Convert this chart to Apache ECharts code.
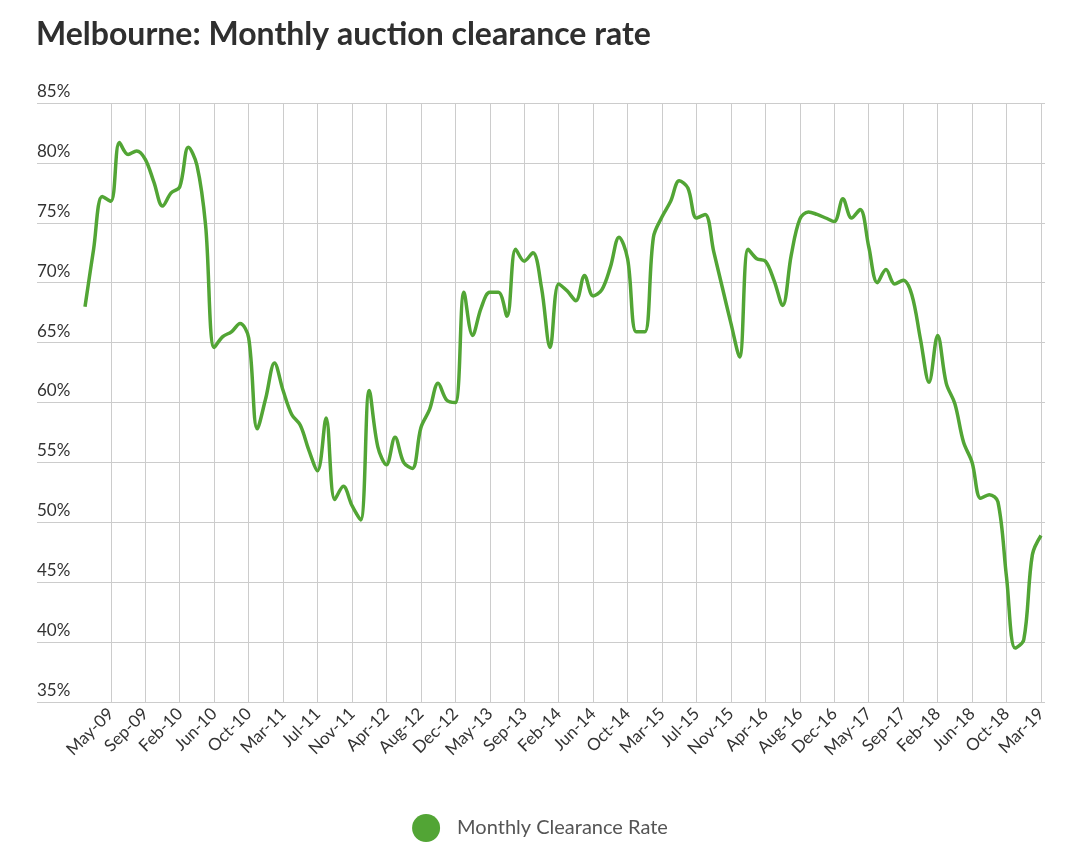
<!DOCTYPE html>
<html>
<head>
<meta charset="utf-8">
<script src="https://cdn.jsdelivr.net/npm/echarts@6/dist/echarts.min.js"></script>
<style>
html,body{margin:0;padding:0;background:#fff;}
#chart{width:1080px;height:866px;}
</style>
</head>
<body>
<div id="chart"></div>
<script>
// Months with auction data (January omitted)
var categories = [
 "Feb-09","Mar-09","Apr-09","May-09","Jun-09","Jul-09","Aug-09","Sep-09","Oct-09","Nov-09","Dec-09",
 "Feb-10","Mar-10","Apr-10","May-10","Jun-10","Jul-10","Aug-10","Sep-10","Oct-10","Nov-10","Dec-10",
 "Feb-11","Mar-11","Apr-11","May-11","Jun-11","Jul-11","Aug-11","Sep-11","Oct-11","Nov-11","Dec-11",
 "Feb-12","Mar-12","Apr-12","May-12","Jun-12","Jul-12","Aug-12","Sep-12","Oct-12","Nov-12","Dec-12",
 "Feb-13","Mar-13","Apr-13","May-13","Jun-13","Jul-13","Aug-13","Sep-13","Oct-13","Nov-13","Dec-13",
 "Feb-14","Mar-14","Apr-14","May-14","Jun-14","Jul-14","Aug-14","Sep-14","Oct-14","Nov-14","Dec-14",
 "Feb-15","Mar-15","Apr-15","May-15","Jun-15","Jul-15","Aug-15","Sep-15","Oct-15","Nov-15","Dec-15",
 "Feb-16","Mar-16","Apr-16","May-16","Jun-16","Jul-16","Aug-16","Sep-16","Oct-16","Nov-16","Dec-16",
 "Feb-17","Mar-17","Apr-17","May-17","Jun-17","Jul-17","Aug-17","Sep-17","Oct-17","Nov-17","Dec-17",
 "Feb-18","Mar-18","Apr-18","May-18","Jun-18","Jul-18","Aug-18","Sep-18","Oct-18","Nov-18","Dec-18",
 "Feb-19","Mar-19"
];

var clearanceRate = [
 68.0,72.8,77.2,76.8,81.7,80.7,81.0,80.3,78.4,76.4,77.5,
 78.0,81.3,79.8,74.8,64.6,65.5,65.9,66.6,65.4,57.8,60.4,
 63.3,61.0,59.0,58.1,56.0,54.3,58.7,51.9,53.0,51.4,50.2,
 61.0,56.3,54.8,57.1,55.0,54.5,57.9,59.4,61.6,60.2,60.0,
 69.2,65.6,67.9,69.2,69.2,67.2,72.8,71.8,72.5,69.6,64.6,
 69.9,69.3,68.5,70.6,68.9,69.4,71.3,73.8,72.0,65.9,65.9,
 73.8,75.5,76.8,78.5,77.9,75.4,75.7,72.6,69.6,66.6,63.8,
 72.8,72.0,71.8,70.2,68.1,72.3,75.3,75.9,75.7,75.4,75.1,
 77.0,75.4,76.1,73.0,70.0,71.1,69.9,70.2,69.0,65.3,61.7,
 65.6,61.6,59.9,56.7,55.0,52.0,52.3,51.7,45.4,39.5,40.2,
 47.3,48.9
];

var yTicks = [35,40,45,50,55,60,65,70,75,80,85];
var seriesName = "Monthly Clearance Rate";
var titleText = "Melbourne: Monthly auction clearance rate";

var firstLabelIndex = 3;   // May-09
var labelStep = 4;

function showTick(index) {
  return index >= firstLabelIndex && (index - firstLabelIndex) % labelStep === 0;
}

var chart = echarts.init(document.getElementById('chart'), null, {renderer:'canvas'});
var green = '#52a535';
var font = 'Lato, "Noto Sans", sans-serif';

chart.setOption({
  backgroundColor: '#ffffff',
  animation: false,
  title: {
    text: titleText,
    left: 36,
    top: 19,
    padding: 0,
    textStyle: {fontFamily: font, fontWeight: 'bold', fontSize: 32, color: '#2f2f2f'}
  },
  legend: {
    data: [{name: seriesName, icon: 'circle'}],
    left: 'center',
    top: 809,
    itemWidth: 28,
    itemHeight: 28,
    textStyle: {fontFamily: font, fontSize: 20, color: '#555555', padding: [0,0,0,12]}
  },
  grid: [
    {left: 37, right: 35, top: 103, bottom: 164, containLabel: false},
    {left: 85, right: 39, top: 103, bottom: 164, containLabel: false}
  ],
  xAxis: [
    {gridIndex: 0, type: 'value', min: 0, max: 1, show: false},
    {
      gridIndex: 1,
      type: 'category',
      data: categories,
      boundaryGap: false,
      axisLine: {show: false},
      axisTick: {show: false},
      splitLine: {show: true, interval: function(i){return showTick(i);}, lineStyle: {color: '#cccccc', width: 1}},
      axisLabel: {
        interval: function(i){return showTick(i);},
        rotate: 45,
        margin: 9,
        fontFamily: font,
        fontSize: 17,
        color: '#333333'
      }
    }
  ],
  yAxis: [
    {
      gridIndex: 0,
      type: 'value',
      min: yTicks[0],
      max: yTicks[yTicks.length-1],
      interval: 5,
      axisLine: {show: false},
      axisTick: {show: false},
      splitLine: {show: true, lineStyle: {color: '#cccccc', width: 1}},
      axisLabel: {
        inside: true,
        margin: 0,
        verticalAlign: 'bottom',
        padding: [0,0,3,0],
        formatter: '{value}%',
        fontFamily: font,
        fontSize: 17,
        color: '#333333'
      }
    },
    {
      gridIndex: 1,
      type: 'value',
      min: yTicks[0],
      max: yTicks[yTicks.length-1],
      interval: 5,
      show: false,
      splitLine: {show: false}
    }
  ],
  series: [{
    name: seriesName,
    type: 'line',
    xAxisIndex: 1,
    yAxisIndex: 1,
    data: clearanceRate,
    smooth: 0.35,
    symbol: 'none',
    itemStyle: {color: green},
    lineStyle: {color: green, width: 3.5}
  }]
});
</script>
</body>
</html>
